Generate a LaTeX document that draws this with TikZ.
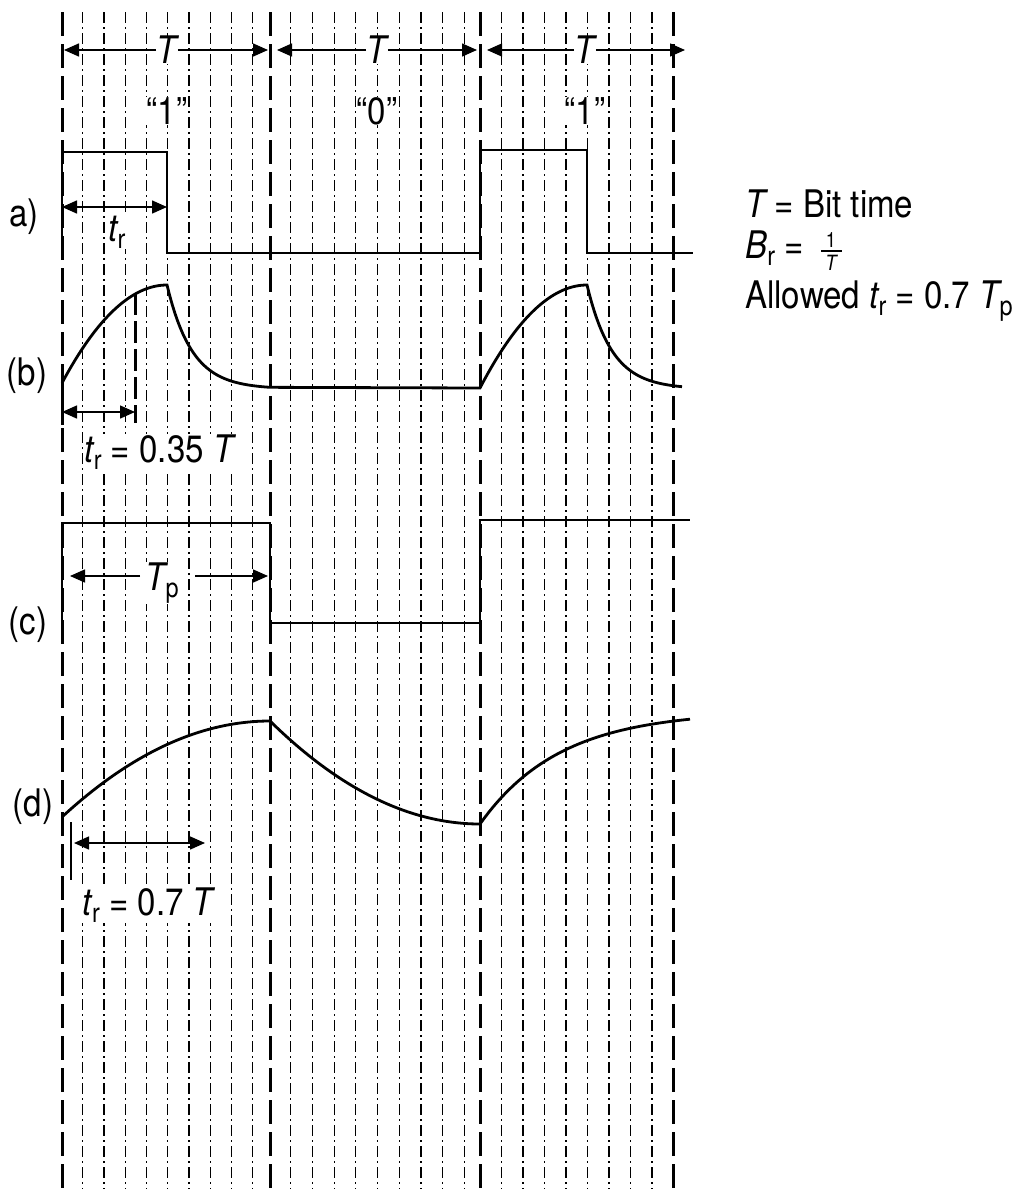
\documentclass[tikz,border=0pt]{standalone}
\usepackage{fontspec}
\setmainfont{TeX Gyre Heros}[FakeStretch=0.87]
\usetikzlibrary{arrows.meta}
\newcommand\mysub[1]{\raisebox{-7pt}{\fontsize{27}{27}\selectfont #1}}
\newcommand\bigtxt{\fontsize{38}{44}\selectfont}
\newcommand\smalltxt{\fontsize{21}{22}\selectfont}
\begin{document}
\begin{tikzpicture}[x=1pt,y=-1pt,
  heavy/.style={line width=3pt, dash pattern=on 24pt off 8pt},
  marker/.style={line width=3pt, dash pattern=on 22pt off 6pt},
  minor/.style={line width=1.2pt, dash pattern=on 11pt off 4pt on 2pt off 4pt},
  wave/.style={line width=2.8pt, line join=miter},
  dimarr/.style={line width=1.5pt, -{Triangle[length=15pt,width=13pt]}},
  dimboth/.style={line width=1.5pt, {Triangle[length=15pt,width=13pt]}-{Triangle[length=15pt,width=13pt]}},
  lbl/.style={font=\bigtxt, inner sep=0.5pt, fill=white},
  txt/.style={font=\bigtxt, inner sep=0pt}]

\fill[white] (0,0) rectangle (1027,1189);
\useasboundingbox (0,0) rectangle (1027,1189);

% ---------- grid ----------
\foreach \x in {82.75,104,125.25,146.5,167.75,189,210.25,231.5,252.75,
                290.7,312.4,334.1,355.8,377.5,399.2,420.9,442.6,464.3,
                501.5,523,544.5,566,587.5,609,630.5,652}
  \draw[minor] (\x,12) -- (\x,1189);
\foreach \x in {62,270,480,673}
  \draw[heavy] (\x,12) -- (\x,1189);

% ---------- bit-time arrows ----------
\node[lbl, font=\bigtxt\itshape] (T1) at (167,50) {T};
\node[lbl, font=\bigtxt\itshape] (T2) at (377,50) {T};
\node[lbl, font=\bigtxt\itshape] (T3) at (585,50) {T};
\coordinate (T1l) at (64,50);  \coordinate (T1r) at (268,50);
\coordinate (T2l) at (277,50); \coordinate (T2r) at (477,50);
\coordinate (T3l) at (487,50); \coordinate (T3r) at (685,50);
\draw[dimarr] (T1) -- (T1l); \draw[dimarr] (T1) -- (T1r);
\draw[dimarr] (T2) -- (T2l); \draw[dimarr] (T2) -- (T2r);
\draw[dimarr] (T3) -- (T3l); \draw[dimarr] (T3) -- (T3r);

\node[lbl] (q1) at (167,111) {“1”};
\node[lbl] (q2) at (377,111) {“0”};
\node[lbl] (q3) at (585,111) {“1”};

% ---------- (a) ----------
\node[txt] (la) at (24,217) {a)};
\draw[wave] (62,253) -- (62,152) -- (167,152) -- (167,253) -- (480,253)
  -- (480,150) -- (587,150) -- (587,253) -- (693,253);
\coordinate (ta1) at (62,207); \coordinate (ta2) at (167,207);
\draw[dimboth] (ta1) -- (ta2);
\node[lbl] (tra) at (117,232) {{\itshape t}\mysub{r}};

% ---------- (b) ----------
\node[txt] (lb) at (27,376) {(b)};
\draw[wave] plot[domain=62:167,samples=40] (\x,{383-98*(1-(1-(\x-62)/105)^2)})
  -- plot[domain=167:270,samples=40] (\x,{285+104*(1-exp(-(\x-167)/25))})
  -- (480,388)
  -- plot[domain=480:587,samples=40] (\x,{388-103*(1-(1-(\x-480)/107)^2)})
  -- plot[domain=587:682,samples=40] (\x,{285+104*(1-exp(-(\x-587)/25))});
\draw[line width=3pt] (62,380) -- (62,425);
\draw[marker] (135,293) -- (135,423);
\coordinate (tb1) at (62,412); \coordinate (tb2) at (135,412);
\draw[dimboth] (tb1) -- (tb2);
\node[lbl] (trb) at (159,452) {{\itshape t}\mysub{r} = 0.35 {\itshape T}};

% ---------- (c) ----------
\node[txt] (lc) at (28,625) {(c)};
\draw[wave] (62,623) -- (62,523) -- (270,523) -- (270,623) -- (480,623)
  -- (480,520) -- (690,520);
\node[lbl] (Tp) at (162,583) {{\itshape T}\mysub{p}};
\coordinate (TpL) at (70,576);  \coordinate (TpLs) at (140,576);
\coordinate (TpR) at (268,576); \coordinate (TpRs) at (195,576);
\draw[dimarr] (TpLs) -- (TpL);
\draw[dimarr] (TpRs) -- (TpR);

% ---------- (d) ----------
\node[txt] (ld) at (33,807) {(d)};
\draw[wave] plot[domain=62:270,samples=50] (\x,{817-96*(1-(1-(\x-62)/208)^2)})
  -- plot[domain=270:480,samples=50] (\x,{721+103*(1-(1-(\x-270)/210)^2)})
  -- plot[domain=480:690,samples=50] (\x,{824-113*(1-exp(-(\x-480)/80))});
\coordinate (dk1) at (71,822); \coordinate (dk2) at (71,880);
\draw[line width=2.5pt] (dk1) -- (dk2);
\coordinate (td1) at (74,843); \coordinate (td2) at (205,843);
\draw[dimboth] (td1) -- (td2);
\node[lbl] (trd) at (148,905) {{\itshape t}\mysub{r} = 0.7 {\itshape T}};

% ---------- legend ----------
\node[txt, anchor=base west] (leg1) at (745,217) {{\itshape T} = Bit time};
\node[txt, anchor=base west] (leg2) at (745,258) {{\itshape B}\mysub{r} =};
\node[txt, font=\smalltxt] (fr1) at (831,240) {1};
\node[txt, font=\smalltxt\itshape] (frT) at (831,263) {T};
\draw[line width=1.5pt] (821,251) -- (842,251);
\node[txt, anchor=base west] (leg3) at (745,308) {Allowed {\itshape t}\mysub{r} = 0.7 {\itshape T}\mysub{p}};
\end{tikzpicture}
\end{document}
